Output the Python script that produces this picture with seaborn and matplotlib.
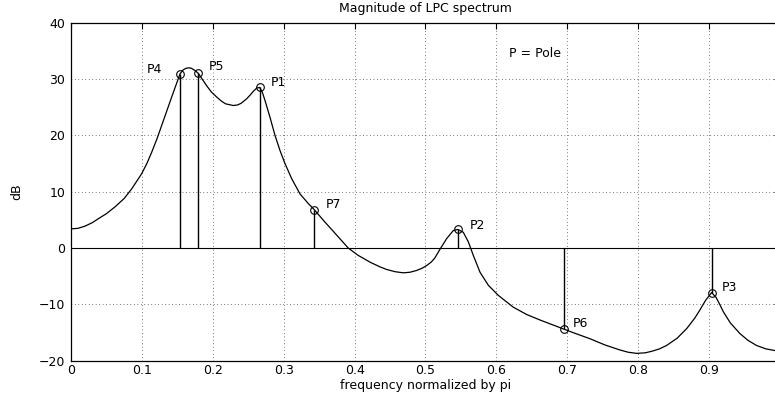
import matplotlib
matplotlib.use("Agg")
import matplotlib.pyplot as plt
import seaborn as sns
import pandas as pd

# ---- data ----
curve_freq = [0.000, 0.010, 0.020, 0.030, 0.0385, 0.050, 0.062, 0.075, 0.0856, 0.0997,
              0.107, 0.1138, 0.121, 0.128, 0.135, 0.142, 0.148, 0.1537, 0.158, 0.162,
              0.1664, 0.170, 0.175, 0.1796, 0.185, 0.1914, 0.198, 0.2055, 0.212, 0.218,
              0.2289, 0.235, 0.240, 0.2478, 0.253, 0.257, 0.262, 0.2662, 0.270, 0.2736,
              0.2807, 0.2877, 0.2948, 0.3018, 0.3113, 0.323, 0.3347, 0.3432, 0.3582, 0.3747,
              0.391, 0.405, 0.4217, 0.435, 0.445, 0.457, 0.4687, 0.478, 0.487, 0.495,
              0.5017, 0.508, 0.513, 0.5205, 0.530, 0.5392, 0.5454, 0.5533, 0.5604, 0.5674,
              0.5769, 0.5886, 0.6027, 0.6238, 0.6427, 0.662, 0.6953, 0.710, 0.732, 0.753,
              0.7743, 0.786, 0.7979, 0.810, 0.820, 0.830, 0.840, 0.855, 0.8684, 0.880,
              0.887, 0.895, 0.9036, 0.910, 0.915, 0.920, 0.930, 0.9436, 0.955, 0.967,
              0.980, 0.993, 1.000]
curve_db = [3.4, 3.5, 3.9, 4.5, 5.2, 6.1, 7.3, 8.8, 10.5, 13.2,
            15.0, 17.0, 19.3, 21.8, 24.3, 26.8, 28.9, 30.9, 31.6, 31.9,
            32.0, 31.9, 31.5, 31.0, 30.0, 28.8, 27.7, 26.8, 26.1, 25.6,
            25.3, 25.4, 25.7, 26.5, 27.2, 27.8, 28.4, 28.5, 27.6, 26.2,
            23.2, 20.0, 17.3, 15.0, 12.3, 9.6, 7.9, 6.8, 4.6, 2.3,
            0.0, -1.3, -2.5, -3.3, -3.8, -4.2, -4.4, -4.3, -4.0, -3.6,
            -3.1, -2.5, -1.8, -0.2, 1.7, 3.1, 3.3, 2.8, 1.1, -1.3,
            -4.3, -6.6, -8.4, -10.5, -11.8, -12.8, -14.4, -15.1, -16.1, -17.2,
            -18.1, -18.5, -18.7, -18.6, -18.3, -17.9, -17.3, -16.0, -14.3, -12.4,
            -11.0, -9.3, -7.9, -8.8, -10.0, -11.3, -13.3, -15.2, -16.4, -17.3,
            -17.9, -18.2, -18.3]

pole_labels = ["P1", "P2", "P3", "P4", "P5", "P6", "P7"]
pole_freq = [0.2662, 0.5454, 0.9036, 0.1537, 0.1796, 0.6953, 0.3432]
pole_db = [28.5, 3.3, -7.9, 30.9, 31.0, -14.4, 6.8]

x_ticks = [0, 0.1, 0.2, 0.3, 0.4, 0.5, 0.6, 0.7, 0.8, 0.9]
x_tick_labels = ["0", "0.1", "0.2", "0.3", "0.4", "0.5", "0.6", "0.7", "0.8", "0.9"]
y_ticks = [-20, -10, 0, 10, 20, 30, 40]

title_text = "Magnitude of LPC spectrum"
x_label = "frequency normalized by pi"
y_label = "dB"
note_text = "P = Pole"

# ---- styling ----
sns.set_style("white")
plt.rcParams["font.family"] = ["DejaVu Sans"]
plt.rcParams["text.color"] = "black"
plt.rcParams["axes.labelcolor"] = "black"
plt.rcParams["xtick.color"] = "black"
plt.rcParams["ytick.color"] = "black"
fs = 9

fig = plt.figure(figsize=(7.75, 3.96), dpi=100)
ax = fig.add_axes([71 / 775, (396 - 360.7) / 396, 709 / 775, 338.0 / 396])

curve = pd.DataFrame({"freq": curve_freq, "db": curve_db})
poles = pd.DataFrame({"freq": pole_freq, "db": pole_db, "label": pole_labels})

ax.axhline(0, color="black", lw=0.8, zorder=2)
sns.lineplot(data=curve, x="freq", y="db", ax=ax, color="black", lw=0.9,
             sort=False, estimator=None, zorder=3)
ax.vlines(poles["freq"], 0, poles["db"], color="black", lw=1.0, zorder=3)
ax.plot(poles["freq"], poles["db"], "o", mfc="none", mec="black", ms=5.5, mew=0.8, zorder=4)

offsets = {"P1": (7.7, 3.4), "P2": (8.8, 3.1), "P3": (7.4, 3.8), "P4": (-13, 3.0),
           "P5": (7.7, 4.8), "P6": (6.5, 4.3), "P7": (7.9, 3.6)}
for lab, fx, fy in zip(poles["label"], poles["freq"], poles["db"]):
    dx, dy = offsets[lab]
    ax.annotate(lab, (fx, fy), xytext=(dx, dy), textcoords="offset points",
                ha="right" if dx < 0 else "left", va="center", fontsize=fs,
                color="black")

ax.text(0.618, 34.5, note_text, ha="left", va="center", fontsize=fs, color="black")

ax.set_xlim(0, 1)
ax.set_ylim(-20, 40)
ax.set_xticks(x_ticks)
ax.set_xticklabels(x_tick_labels)
ax.set_yticks(y_ticks)
ax.tick_params(direction="in", length=4, width=0.8, labelsize=fs, top=True, right=True,
               colors="black", labelcolor="black")
ax.tick_params(axis="x", pad=2.5)
ax.tick_params(axis="y", pad=4)
ax.grid(True, color="black", linestyle=(0, (1, 4)), lw=0.5)
for s in ax.spines.values():
    s.set_color("black")
    s.set_linewidth(0.9)

ax.set_title(title_text, fontsize=fs, pad=7.5, color="black")
ax.set_xlabel(x_label, fontsize=fs, labelpad=1, color="black")
ax.set_ylabel(y_label, fontsize=fs, color="black")
ax.yaxis.set_label_coords(-0.0677, 0.5)

fig.savefig("out.png", dpi=100)
